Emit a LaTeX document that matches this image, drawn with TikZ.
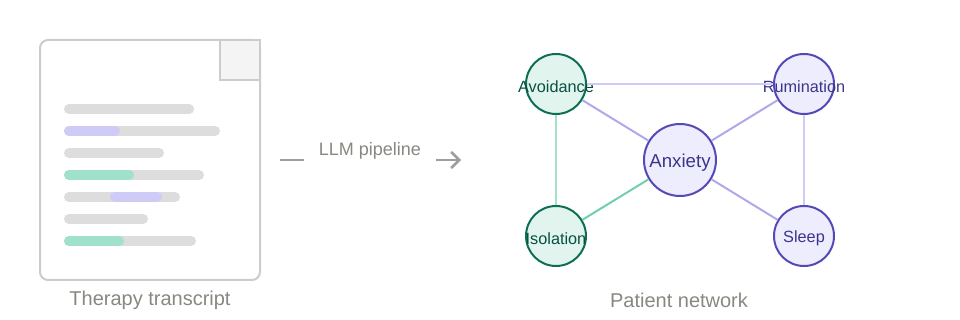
\documentclass[tikz,border=0pt]{standalone}
\usepackage{fontspec}
\setmainfont{Liberation Sans}
\usepackage{xcolor}
\usepackage{tikz}
\usetikzlibrary{positioning, arrows.meta}
\definecolor{paper}{HTML}{FFFFFF}
\definecolor{border}{HTML}{CCCCCC}
\definecolor{fold}{HTML}{F4F4F4}
\definecolor{bar}{HTML}{DDDDDD}
\definecolor{hlpurple}{HTML}{CECBF6}
\definecolor{hlgreen}{HTML}{9FE1CB}
\definecolor{caption}{HTML}{888780}
\definecolor{pipe}{HTML}{9E9E9E}
\definecolor{greenline}{HTML}{0F6E56}
\definecolor{greenfill}{HTML}{E1F5EE}
\definecolor{greentext}{HTML}{085041}
\definecolor{greenedge}{HTML}{6FCFAE}
\definecolor{greensoft}{HTML}{A6DFCA}
\definecolor{purpleline}{HTML}{534AB7}
\definecolor{purplefill}{HTML}{EEEDFE}
\definecolor{purpletext}{HTML}{3C3489}
\definecolor{purpleedge}{HTML}{AFA9EC}
\definecolor{purplesoft}{HTML}{CECBF6}

\begin{document}
\begin{tikzpicture}[
  x=0.75pt, y=-0.75pt,
  docbar/.style={line width=7.5pt, line cap=round},
  caplbl/.style={font=\fontsize{15pt}{18pt}\selectfont, color=caption},
  symptomG/.style={circle, draw=greenline, fill=greenfill, line width=1.5pt,
    minimum size=45pt, inner sep=0pt},
  symptomP/.style={circle, draw=purpleline, fill=purplefill, line width=1.5pt,
    minimum size=45pt, inner sep=0pt},
  netlbl/.style={font=\fontsize{12.2pt}{14pt}\selectfont, yshift=-2pt},
  edgeG/.style={draw=greenedge, line width=1.5pt},
  edgeGS/.style={draw=greensoft, line width=1.5pt},
  edgeP/.style={draw=purpleedge, line width=1.5pt},
  edgeS/.style={draw=purplesoft, line width=1.5pt}
]
  \useasboundingbox (0,0) rectangle (960,320);
  % transcript page
  \draw[draw=border, fill=paper, line width=1.5pt, rounded corners=6pt] (40,40) rectangle (260,280);
  \draw[draw=border, fill=fold, line width=1.5pt] (220,40) rectangle (260,80);
  \foreach \yy/\xR in {109/194, 131/220, 153/164, 175/204, 197/180, 219/148, 241/196} {
    \draw[docbar, color=bar] (69,\yy) -- (\xR-5,\yy);
  }
  \foreach \yy/\xL/\xR/\hl in {131/64/120/hlpurple, 175/64/134/hlgreen,
      197/110/162/hlpurple, 241/64/124/hlgreen} {
    \draw[docbar, color=\hl] (\xL+5,\yy) -- (\xR-5,\yy);
  }
  \node[caplbl] (doccap) at (150,300) {Therapy transcript};
  % pipeline
  \coordinate (dashL) at (280,160);
  \coordinate (dashR) at (304,160);
  \coordinate (arrL) at (436,160);
  \coordinate (arrR) at (461,160);
  \draw[draw=pipe, line width=1.9pt] (dashL) -- (dashR);
  \node[font=\fontsize{13.5pt}{16pt}\selectfont, color=caption] (pipelbl) at (370,151) {LLM pipeline};
  \draw[draw=pipe, line width=1.9pt, -{Straight Barb[length=6pt, width=12pt]}] (arrL) -- (arrR);
  % patient network
  \node[symptomG, label={[netlbl, color=greentext]center:Avoidance}] (avoid) at (556,84) {};
  \node[symptomP, label={[netlbl, color=purpletext]center:Rumination}] (rumin) at (804,84) {};
  \node[symptomP, minimum size=54pt, label={[netlbl, font=\fontsize{14pt}{16pt}\selectfont, color=purpletext]center:Anxiety}] (anx) at (680,160) {};
  \node[symptomG, label={[netlbl, color=greentext]center:Isolation}] (isol) at (556,236) {};
  \node[symptomP, label={[netlbl, color=purpletext]center:Sleep}] (sleep) at (804,236) {};
  \draw[edgeS] (avoid) -- (rumin);
  \draw[edgeP] (avoid) -- (anx);
  \draw[edgeP] (rumin) -- (anx);
  \draw[edgeS] (rumin) -- (sleep);
  \draw[edgeP] (anx) -- (sleep);
  \draw[edgeGS] (avoid) -- (isol);
  \draw[edgeG] (isol) -- (anx);
  \node[caplbl] (netcap) at (679,300) {Patient network};
\end{tikzpicture}
\end{document}
